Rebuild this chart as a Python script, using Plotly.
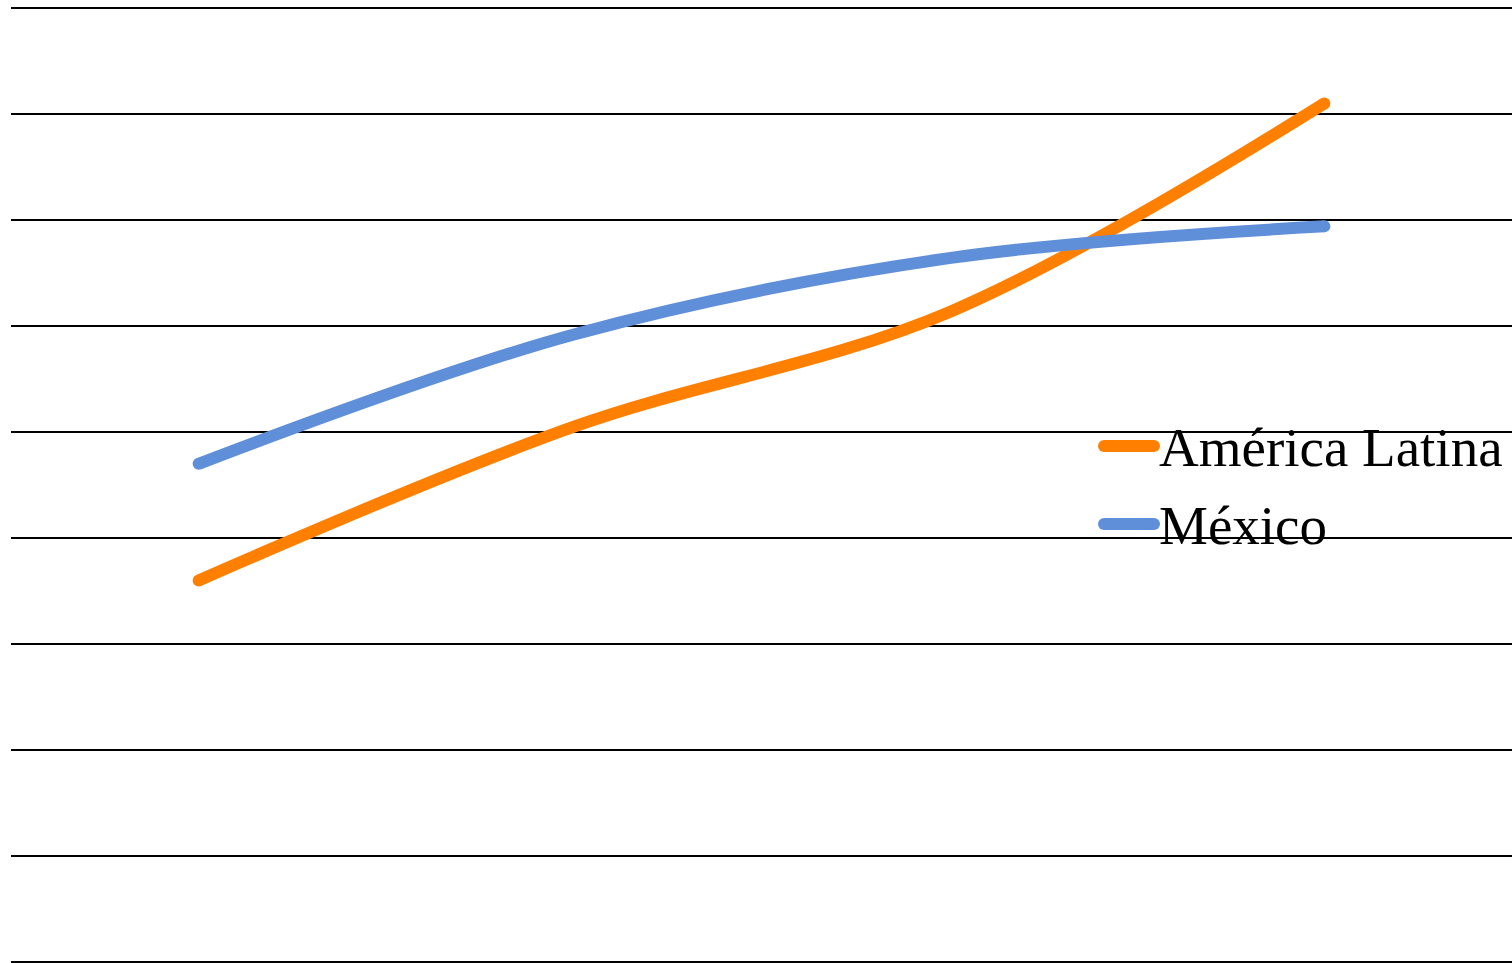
import plotly.graph_objects as go

categories = ["1", "2", "3", "4"]
america_latina = [36.0, 50.5, 61.3, 81.0]
mexico = [47.0, 59.2, 66.4, 69.4]
series_names = ["América Latina", "México"]
colors = ["#FF8000", "#5F8FD9"]
y_max = 90

fig = go.Figure()
for name, vals, col in zip(series_names, [america_latina, mexico], colors):
    n = len(vals)
    fig.add_trace(go.Scatter(
        x=categories, y=vals, name=name, mode="lines+markers",
        line=dict(color=col, width=12, shape="spline", smoothing=1.0),
        marker=dict(color=col, opacity=1, size=[12] + [0] * (n - 2) + [12], line=dict(width=0)),
        showlegend=False, hoverinfo="skip",
    ))

fig.update_layout(
    width=1512, height=963,
    margin=dict(l=11, r=0, t=8, b=1),
    paper_bgcolor="white", plot_bgcolor="white",
    xaxis=dict(type="category", range=[-0.5, 3.5], showgrid=False, showticklabels=False,
               zeroline=False, showline=False, ticks=""),
    yaxis=dict(range=[0, y_max], dtick=10, showgrid=True, gridcolor="black", gridwidth=2,
               showticklabels=False, zeroline=True, zerolinecolor="black", zerolinewidth=2,
               showline=False, ticks=""),
    font=dict(family="Liberation Serif", color="black"),
)
# top gridline (plotly omits the gridline at the range edge); paper ref so it is not clipped
fig.add_shape(type="line", xref="paper", yref="paper", x0=0, x1=1, y0=1, y1=1,
              line=dict(color="black", width=2), layer="below")

# legend drawn manually
leg_y = [(962 - 446) / 954, (962 - 524) / 954]
for name, col, yy in zip(series_names, colors, leg_y):
    fig.add_shape(type="line", xref="paper", yref="paper",
                  x0=(1104 - 11) / 1501, x1=(1154 - 11) / 1501, y0=yy, y1=yy,
                  line=dict(color=col, width=12))
    for xc in (1104, 1154):
        fig.add_shape(type="circle", xref="paper", yref="paper",
                      x0=(xc - 6 - 11) / 1501, x1=(xc + 6 - 11) / 1501,
                      y0=yy - 6 / 954, y1=yy + 6 / 954,
                      fillcolor=col, line=dict(width=0))
    fig.add_annotation(xref="paper", yref="paper", x=(1157 - 11) / 1501, y=yy - 1 / 954,
                       text=name, showarrow=False, xanchor="left", yanchor="middle",
                       font=dict(family="Liberation Serif", size=55, color="black"))

fig.write_html("out.html")
